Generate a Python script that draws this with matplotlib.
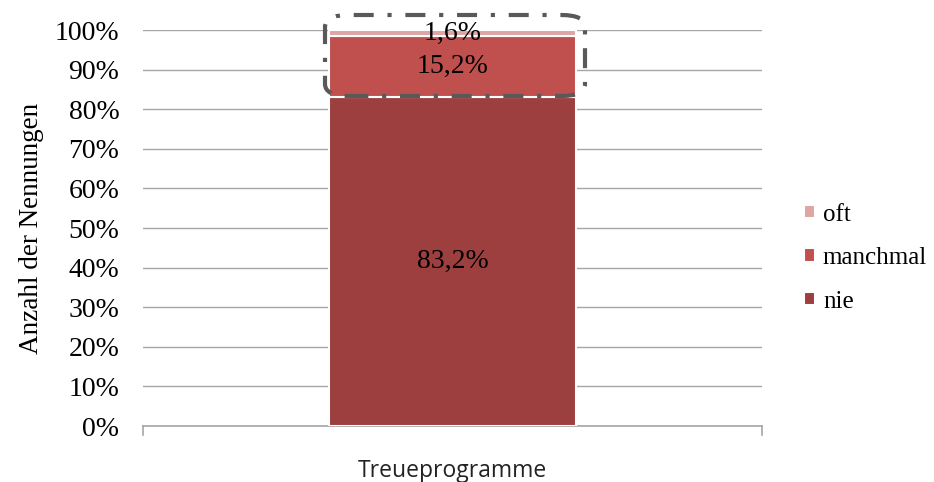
import matplotlib
matplotlib.use("Agg")
import matplotlib.pyplot as plt
from matplotlib.patches import FancyBboxPatch
import numpy as np

categories = ["Treueprogramme"]
series_names = ["nie", "manchmal", "oft"]
nie = [83.2]
manchmal = [15.2]
oft = [1.6]
value_labels = {"nie": ["83,2%"], "manchmal": ["15,2%"], "oft": ["1,6%"]}
yticks = [0, 10, 20, 30, 40, 50, 60, 70, 80, 90, 100]
ytick_labels = ["0%", "10%", "20%", "30%", "40%", "50%", "60%", "70%", "80%", "90%", "100%"]
colors = {"nie": "#9C3F3E", "manchmal": "#C0504D", "oft": "#DDA5A4"}

serif = "Liberation Serif"

fig = plt.figure(figsize=(9.34, 4.82), dpi=100)
ax = fig.add_axes([143/934, 1-426/482, (762-143)/934, (426-30)/482])

x = np.arange(len(categories))
data = {"nie": nie, "manchmal": manchmal, "oft": oft}
bottom = np.zeros(len(categories))
handles = []
for name in series_names:
    vals = np.array(data[name])
    b = ax.bar(x, vals, bottom=bottom, width=0.40, color=colors[name],
               edgecolor="white", linewidth=1.5, label=name, zorder=3)
    handles.append(b)
    for xi, v, bt, lab in zip(x, vals, bottom, value_labels[name]):
        ax.text(xi, bt + v/2, lab, ha="center", va="center",
                fontsize=20, family=serif, color="black", zorder=5)
    bottom += vals

ax.set_xlim(-0.5, 0.5)
ax.set_ylim(0, 100)
ax.set_yticks(yticks)
ax.set_yticklabels(ytick_labels, family=serif, fontsize=20)
ax.set_xticks(x)
ax.set_xticklabels(categories, family="Open Sans", fontsize=16.5, color="#222222")
ax.tick_params(axis="y", length=0, pad=17)
ax.tick_params(axis="x", length=0, pad=24)
ax.yaxis.grid(True, color="#A6A6A6", linewidth=1.0, zorder=0)
ax.set_axisbelow(True)
for s in ["top", "right", "left"]:
    ax.spines[s].set_visible(False)
ax.spines["bottom"].set_color("#A6A6A6")
ax.spines["bottom"].set_linewidth(1.2)
# end ticks on the category axis
for xe in [-0.5, 0.5]:
    ax.plot([xe, xe], [0, -2.2], color="#A6A6A6", lw=1.2, clip_on=False, zorder=2)

ax.set_ylabel("Anzahl der Nennungen", family=serif, fontsize=19.5, labelpad=8)

# dashed highlight box (decoration)
box = FancyBboxPatch((325/934, 1-96/482), (585-325)/934, (96-15)/482,
                     boxstyle="round,pad=0,rounding_size=0.025",
                     transform=fig.transFigure, fill=False,
                     edgecolor="#595959", linewidth=3.0,
                     linestyle=(0, (4.8, 3.3, 1, 3.3)), zorder=10)
fig.patches.append(box)

leg = ax.legend(handles[::-1], series_names[::-1], loc="center left",
                bbox_to_anchor=(1.031, 0.424), frameon=False,
                prop={"family": serif, "size": 18}, handlelength=0.45,
                handleheight=0.45, handletextpad=0.32, labelspacing=0.86)

fig.savefig("out.png", dpi=100)
